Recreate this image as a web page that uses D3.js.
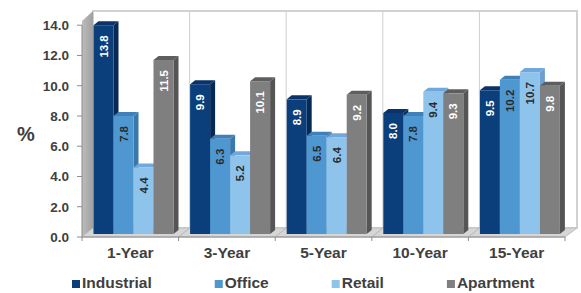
<!DOCTYPE html>
<html>
<head>
<meta charset="utf-8">
<script src="https://cdn.jsdelivr.net/npm/d3@7/dist/d3.min.js"></script>
<style>
  body { margin: 0; background: #fff; }
  text { font-family: "Liberation Sans", Arial, sans-serif; font-weight: bold; }
</style>
</head>
<body>
<svg id="chart" width="581" height="293"></svg>
<script>
// data
var categories = ["1-Year", "3-Year", "5-Year", "10-Year", "15-Year"];
var seriesNames = ["Industrial", "Office", "Retail", "Apartment"];
var industrial = [13.8, 9.9, 8.9, 8.0, 9.5];
var office = [7.8, 6.3, 6.5, 7.8, 10.2];
var retail = [4.4, 5.2, 6.4, 9.4, 10.7];
var apartment = [11.5, 10.1, 9.2, 9.3, 9.8];
var yTicks = [0, 2, 4, 6, 8, 10, 12, 14];

var series = [industrial, office, retail, apartment];
var front = ["#0b3f7c", "#4f97d0", "#8ec3ec", "#7f7f7f"];
var side = ["#062a55", "#3a77ab", "#6b9fcf", "#555555"];
var topc = ["#0a336a", "#3f80b8", "#70a8db", "#5e5e5e"];
var labelFill = ["#fff", "#2a2a2a", "#2a2a2a", "#fff"];

var svg = d3.select("#chart");
var textCol = "#404040";

// wall depth offset
var dx = 11, dy = -9;
var left = 82, right = 565;

var x = d3.scaleBand().domain(categories).range([left, right]).padding(0);
var inner = d3.scaleBand().domain(seriesNames).range([11.5, 91.5]).padding(0);
var y = d3.scaleLinear().domain([0, 14]).range([237, 25.2]);

// back wall
svg.append("rect")
    .attr("x", left + dx).attr("y", 11)
    .attr("width", right - left + 1).attr("height", y(0) + dy - 11)
    .attr("fill", "#fff").attr("stroke", "#d2d2d2").attr("stroke-width", 2);

// gridlines (category separators) on back wall
svg.selectAll(".grid")
    .data(categories.slice(1))
    .enter().append("line")
    .attr("x1", function(d){ return x(d) + dx; })
    .attr("x2", function(d){ return x(d) + dx; })
    .attr("y1", 11).attr("y2", y(0) + dy)
    .attr("stroke", "#cfcfcf").attr("stroke-width", 1);

// left wall
var grad = svg.append("defs").append("linearGradient")
    .attr("id", "wallgrad").attr("x1", 0).attr("x2", 1).attr("y1", 0).attr("y2", 0);
grad.append("stop").attr("offset", "0%").attr("stop-color", "#bcbcbc");
grad.append("stop").attr("offset", "100%").attr("stop-color", "#a0a0a0");
svg.append("polygon")
    .attr("points", [[left, 21], [left + dx, 11], [left + dx, y(0) + dy], [left, y(0)]].join(" "))
    .attr("fill", "url(#wallgrad)");

// floor
svg.append("polygon")
    .attr("points", [[left, y(0)], [right, y(0)], [right + dx + 1, y(0) + dy], [left + dx, y(0) + dy]].join(" "))
    .attr("fill", "#d6d6d6").attr("stroke", "#bdbdbd").attr("stroke-width", 1);
svg.selectAll(".floorline")
    .data(categories.slice(1))
    .enter().append("line")
    .attr("x1", function(d){ return x(d); })
    .attr("x2", function(d){ return x(d) + dx; })
    .attr("y1", y(0)).attr("y2", y(0) + dy)
    .attr("stroke", "#b5b5b5");

// bars
var bd = 5, bh = -4, lift = -3;
categories.forEach(function(c, ci){
    series.forEach(function(s, si){
        var v = s[ci];
        var x0 = x(c) + inner(seriesNames[si]);
        var w = inner.bandwidth();
        var yt = y(v) + lift, yb = y(0) + lift;
        var g = svg.append("g");
        g.append("polygon")
            .attr("points", [[x0 + w, yt], [x0 + w + bd, yt + bh], [x0 + w + bd, yb + bh], [x0 + w, yb]].join(" "))
            .attr("fill", side[si]);
        g.append("polygon")
            .attr("points", [[x0, yt], [x0 + bd, yt + bh], [x0 + w + bd, yt + bh], [x0 + w, yt]].join(" "))
            .attr("fill", topc[si]);
        g.append("rect")
            .attr("x", x0).attr("y", yt)
            .attr("width", w).attr("height", yb - yt)
            .attr("fill", front[si]);
        g.append("text")
            .attr("transform", "translate(" + (x0 + w / 2 + 4) + "," + (yt + 10) + ") rotate(-90)")
            .attr("text-anchor", "end")
            .attr("font-size", "11.5px")
            .attr("fill", labelFill[si])
            .text(v.toFixed(1));
    });
});

// y axis
svg.append("line")
    .attr("x1", left).attr("x2", left).attr("y1", y(14)).attr("y2", y(0))
    .attr("stroke", "#8c8c8c");
var ya = svg.selectAll(".ytick").data(yTicks).enter().append("g");
ya.append("line")
    .attr("x1", left - 5).attr("x2", left)
    .attr("y1", function(d){ return y(d); }).attr("y2", function(d){ return y(d); })
    .attr("stroke", "#8c8c8c");
ya.append("text")
    .attr("x", 69).attr("y", function(d){ return y(d) + 5; })
    .attr("text-anchor", "end").attr("font-size", "13.5px").attr("fill", textCol)
    .text(function(d){ return d3.format(".1f")(d); });

svg.append("text")
    .attr("x", 26).attr("y", 141)
    .attr("text-anchor", "middle").attr("font-size", "20px").attr("fill", textCol)
    .text("%");

// x axis
svg.append("line")
    .attr("x1", left).attr("x2", right).attr("y1", y(0)).attr("y2", y(0))
    .attr("stroke", "#8c8c8c");
svg.selectAll(".xtick")
    .data(categories.concat(["end"]))
    .enter().append("line")
    .attr("x1", function(d, i){ return left + i * x.bandwidth(); })
    .attr("x2", function(d, i){ return left + i * x.bandwidth(); })
    .attr("y1", y(0)).attr("y2", y(0) + 4)
    .attr("stroke", "#8c8c8c");
svg.selectAll(".xlab")
    .data(categories)
    .enter().append("text")
    .attr("x", function(d){ return x(d) + x.bandwidth() / 2; })
    .attr("y", 258)
    .attr("text-anchor", "middle").attr("font-size", "15.5px").attr("fill", textCol)
    .text(function(d){ return d; });

// legend
var lx = 72;
seriesNames.forEach(function(n, i){
    svg.append("rect")
        .attr("x", lx).attr("y", 280).attr("width", 8).attr("height", 8)
        .attr("fill", front[i]);
    var t = svg.append("text")
        .attr("x", lx + 10).attr("y", 288)
        .attr("font-size", "15.5px").attr("fill", textCol)
        .text(n);
    lx = lx + 10 + t.node().getComputedTextLength() + 63;
});
</script>
</body>
</html>
